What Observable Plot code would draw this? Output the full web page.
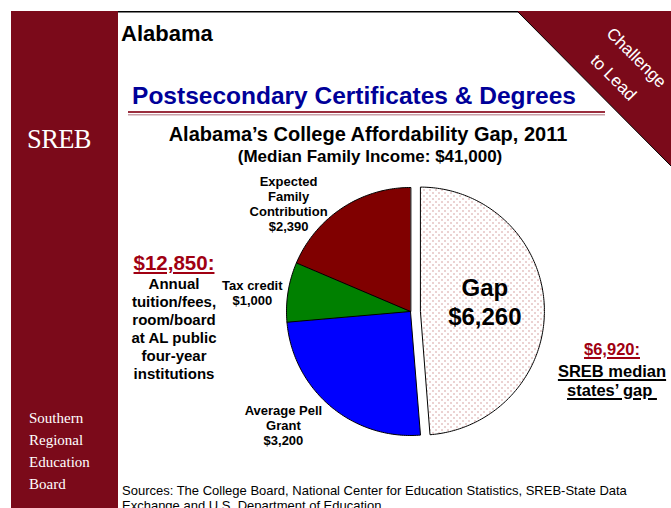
<!DOCTYPE html>
<html><head><meta charset="utf-8">
<script src="https://cdn.jsdelivr.net/npm/d3@7"></script>
<script src="https://cdn.jsdelivr.net/npm/@observablehq/plot@0.6"></script>
<style>
html,body{margin:0;padding:0;background:#fff;}
#slide{position:relative;width:671px;height:508px;overflow:hidden;background:#fff;font-family:"Liberation Sans",Arial,Helvetica,sans-serif;color:#000;}
.t{position:absolute;white-space:nowrap;}
.c{transform:translateX(-50%);text-align:center;}
.b{font-weight:bold;}
.serif{font-family:"Liberation Serif","Times New Roman",serif;color:#fff;}
.red{color:#A00012;text-decoration:underline;text-decoration-thickness:2px;text-underline-offset:2px;}
.ul{text-decoration:underline;text-decoration-thickness:2px;text-underline-offset:2px;}
.rot{color:#fff;font-size:17px;transform:translate(-50%,-50%) rotate(45deg);}
#chart{position:absolute;left:200px;top:170px;}
</style></head><body>
<div id="slide">
<svg width="671" height="508" style="position:absolute;left:0;top:0">
 <rect x="11" y="11" width="107" height="497" fill="#7B0A1A"/>
 <line x1="118" y1="11.75" x2="518" y2="11.75" stroke="#000" stroke-width="1.5"/>
 <polygon points="517,11 671,11 671,166" fill="#7B0A1A"/>
 <line x1="517" y1="11" x2="671" y2="166" stroke="#000" stroke-width="1"/>
 <rect x="128" y="111" width="477" height="2" fill="#9B2F3F"/>
 <rect x="128" y="114" width="477" height="1.5" fill="#C9A0A8"/>
</svg>
<div class="t b" style="left:121px;top:21px;font-size:22px;line-height:26px;">Alabama</div>
<div class="t b c" style="left:354px;top:82px;font-size:24.5px;line-height:28px;color:#000099;">Postsecondary Certificates &amp; Degrees</div>
<div class="t rot" style="left:636px;top:58px;">Challenge</div>
<div class="t rot" style="left:613px;top:78px;">to Lead</div>
<div class="t serif" style="left:27px;top:124px;font-size:26.5px;line-height:30px;letter-spacing:-0.6px;">SREB</div>
<div class="t serif" style="left:29px;top:407px;font-size:15px;line-height:22px;">Southern<br>Regional<br>Education<br>Board</div>
<div class="t b c" style="left:368px;top:122px;font-size:20px;line-height:24px;">Alabama’s College Affordability Gap, 2011</div>
<div class="t b c" style="left:370px;top:147px;font-size:17px;line-height:20px;">(Median Family Income: $41,000)</div>
<div class="t b c red" id="totalLbl" style="left:174px;top:251px;font-size:20.5px;line-height:24px;"></div>
<div class="t b c" style="left:174px;top:275px;font-size:15px;line-height:18px;">Annual<br>tuition/fees,<br>room/board<br>at AL public<br>four-year<br>institutions</div>
<div class="t b c red" id="sregLbl" style="left:612px;top:339.5px;font-size:16.5px;line-height:19px;"></div>
<div class="t b c" style="left:612px;top:361.5px;font-size:16.5px;line-height:19px;"><span class="ul">SREB median</span><br><span class="ul">states’ gap&nbsp;</span></div>
<div class="t" style="left:122px;top:483px;font-size:13px;line-height:15px;">Sources: The College Board, National Center for Education Statistics, SREB-State Data<br>Exchange and U.S. Department of Education.</div>
<div id="chart"></div>
</div>
<script>
// ---- data ----
const categories = ["Gap", "Average Pell Grant", "Tax credit", "Expected Family Contribution"];
const amounts = [6260, 3200, 1000, 2390];
const sliceLabels = ["Gap\n$6,260", "Average Pell\nGrant\n$3,200", "Tax credit\n$1,000", "Expected\nFamily\nContribution\n$2,390"];
const totalCost = 12850;
const sregMedianGap = 6920;

// ---- styles / layout ----
const sliceColors = ["url(#gapDots)", "#0000FF", "#008000", "#800000"];
const explode = {"Gap": 0.08};
const labelStyle = {
  "Gap": {r: 0.52, dx: 0, dy: -7, size: 24, lh: 1.2},
  "Average Pell Grant": {r: 1.3, dx: -23, dy: -9, size: 13, lh: 1.15},
  "Tax credit": {r: 1.3, dx: 1, dy: 7, size: 13, lh: 1.15},
  "Expected Family Contribution": {r: 1.3, dx: -33, dy: 27, size: 13, lh: 1.15}
};
const W = 360, H = 280, CX = 210, CY = 141, PX = 124;

const fmt = d3.format("$,");
document.getElementById("totalLbl").textContent = fmt(totalCost) + ":";
document.getElementById("sregLbl").textContent = fmt(sregMedianGap) + ":";

const rows = categories.map((name, i) => ({name, value: amounts[i], label: sliceLabels[i]}));
const arcs = d3.pie().sort(null).value(d => d.value)(rows);
const outline = [];
arcs.forEach(a => {
  const mid = (a.startAngle + a.endAngle) / 2;
  const off = explode[a.data.name] || 0;
  a.ox = off * Math.sin(mid); a.oy = off * Math.cos(mid); a.mid = mid;
  outline.push({name: a.data.name, x: a.ox, y: a.oy});
  const n = Math.ceil((a.endAngle - a.startAngle) * 180 / Math.PI) + 1;
  for (let i = 0; i <= n; i++) {
    const t = a.startAngle + (a.endAngle - a.startAngle) * i / n;
    outline.push({name: a.data.name, x: a.ox + Math.sin(t), y: a.oy + Math.cos(t)});
  }
});

const textMarks = arcs.map(a => {
  const s = labelStyle[a.data.name];
  return Plot.text([a], {
    x: d => d.ox + s.r * Math.sin(d.mid),
    y: d => d.oy + s.r * Math.cos(d.mid),
    text: d => d.data.label,
    fontSize: s.size, fontWeight: "bold", lineHeight: s.lh,
    lineAnchor: "middle", textAnchor: "middle",
    dx: s.dx, dy: s.dy, fill: "#000"
  });
});

const svg = Plot.plot({
  width: W, height: H, margin: 0,
  x: {domain: [-CX / PX, (W - CX) / PX], axis: null},
  y: {domain: [-(H - CY) / PX, CY / PX], axis: null},
  color: {domain: categories, range: sliceColors},
  style: {background: "transparent", fontFamily: "'Liberation Sans', Arial, sans-serif", overflow: "visible"},
  marks: [
    Plot.line(outline, {x: "x", y: "y", z: "name", fill: "name", stroke: "#000", strokeWidth: 1, curve: "linear-closed"}),
    ...textMarks
  ]
});
const ns = "http://www.w3.org/2000/svg";
const defs = document.createElementNS(ns, "defs");
defs.innerHTML = '<pattern id="gapDots" width="6" height="6" patternUnits="userSpaceOnUse"><rect width="6" height="6" fill="#fff"/><rect x="1" y="1" width="1" height="1" fill="#b04a4a"/><rect x="4" y="4" width="1" height="1" fill="#b04a4a"/></pattern>';
svg.insertBefore(defs, svg.firstChild);
document.getElementById("chart").appendChild(svg);
</script>
</body></html>
